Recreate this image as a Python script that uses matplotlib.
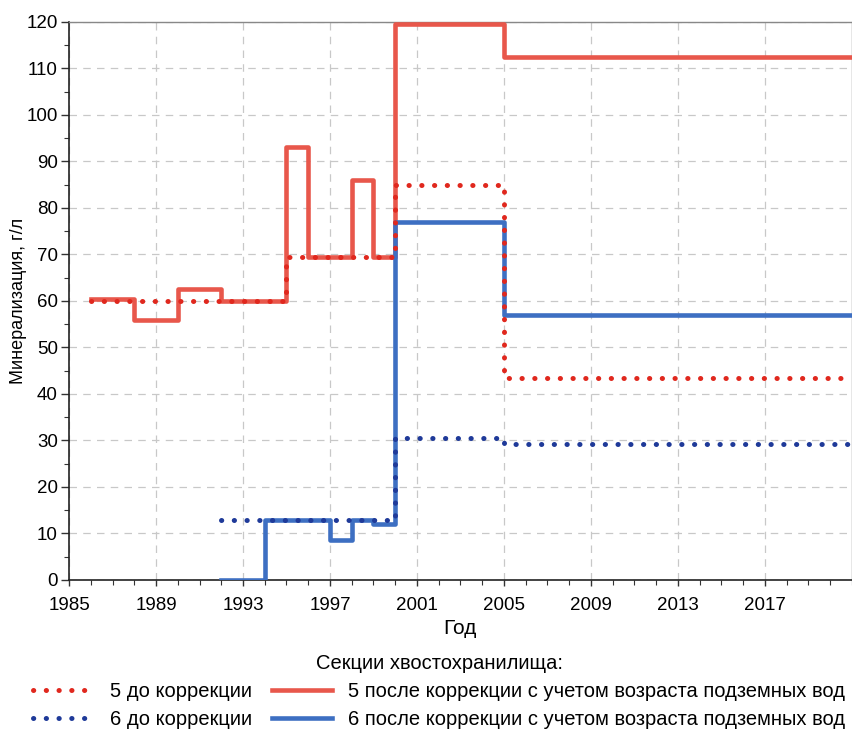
import matplotlib
matplotlib.use('Agg')
import matplotlib.pyplot as plt
from matplotlib.ticker import FixedLocator, MultipleLocator

plt.rcParams['font.family'] = ['Liberation Sans Narrow', 'Liberation Sans', 'DejaVu Sans']

# Section 5, before correction
s5_before_years = [1986, 1995, 2000, 2005, 2021]
s5_before_vals = [60, 69.5, 85, 43.5, 43.5]

# Section 5, after correction (groundwater age)
s5_after_years = [1986, 1988, 1990, 1992, 1995, 1996, 1998, 1999, 2000, 2005, 2021]
s5_after_vals = [60.5, 56, 62.5, 60, 93, 69.5, 86, 69.5, 119.6, 112.5, 112.5]

# Section 6, before correction
s6_before_years = [1992, 2000, 2005, 2021]
s6_before_vals = [12.8, 30.5, 29.2, 29.2]

# Section 6, after correction (groundwater age)
s6_after_years = [1992, 1994, 1997, 1998, 1999, 2000, 2005, 2021]
s6_after_vals = [0, 13, 8.5, 13, 12, 77, 57, 57]

year_ticks = [1985, 1989, 1993, 1997, 2001, 2005, 2009, 2013, 2017]

labels = ['5 до коррекции', '6 до коррекции',
          '5 после коррекции с учетом возраста подземных вод',
          '6 после коррекции с учетом возраста подземных вод']

red_solid = '#e8574b'
red_dot = '#e0281e'
blue_solid = '#3d6fc2'
blue_dot = '#1f3a99'

fig = plt.figure(figsize=(8.53, 7.29), dpi=100)
ax = fig.add_axes([0.081, 0.2044, 0.9175, 0.7656])

dots = (0, (0.05, 2.5))
h1, = ax.plot(s5_before_years, s5_before_vals, drawstyle='steps-post',
              color=red_dot, lw=3.6, ls=dots, dash_capstyle='round', zorder=4)
h2, = ax.plot(s6_before_years, s6_before_vals, drawstyle='steps-post',
              color=blue_dot, lw=3.6, ls=dots, dash_capstyle='round', zorder=4)
h3, = ax.plot(s5_after_years, s5_after_vals, drawstyle='steps-post',
              color=red_solid, lw=3.3, zorder=3)
h4, = ax.plot(s6_after_years, s6_after_vals, drawstyle='steps-post',
              color=blue_solid, lw=3.3, zorder=3)

ax.set_xlim(1985, 2021)
ax.set_ylim(0, 120)
ax.xaxis.set_major_locator(FixedLocator(year_ticks))
ax.xaxis.set_minor_locator(MultipleLocator(1))
ax.yaxis.set_major_locator(MultipleLocator(10))
ax.yaxis.set_minor_locator(MultipleLocator(5))
ax.tick_params(axis='both', which='major', labelsize=13.5, width=1,
               direction='out', color='#333333')
ax.tick_params(axis='both', which='minor', length=3.5, width=0.8,
               direction='out', color='#333333')
ax.tick_params(axis='x', which='major', length=4, pad=8)
ax.tick_params(axis='y', which='major', length=6, pad=2)

ax.grid(True, which='major', ls=(0, (6, 5)), color='#c8c8c8', lw=0.9)
ax.set_axisbelow(True)

for side in ['left', 'bottom']:
    ax.spines[side].set_color('#222222')
    ax.spines[side].set_linewidth(1.2)
for side in ['top', 'right']:
    ax.spines[side].set_color('#888888')
    ax.spines[side].set_linewidth(1.0)

ax.set_xlabel('Год', fontsize=15, labelpad=4)
ax.set_ylabel('Минерализация, г/л', fontsize=13, labelpad=0)

leg = fig.legend([h1, h2, h3, h4], labels, ncol=2, loc='center',
                 bbox_to_anchor=(0.515, 0.052), frameon=False, fontsize=14.5,
                 title='Секции хвостохранилища:', title_fontsize=14.5,
                 handlelength=3.0, columnspacing=1.0, handletextpad=0.8,
                 labelspacing=0.45)

fig.savefig('out.png', dpi=100)
